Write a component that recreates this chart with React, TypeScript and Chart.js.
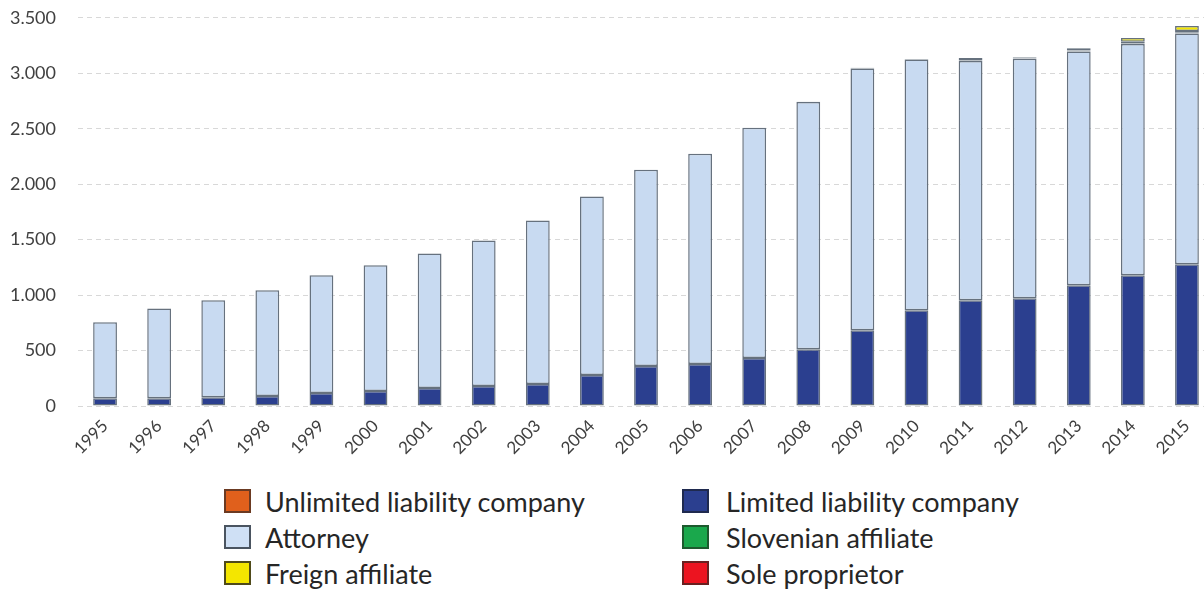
import React, { useEffect, useRef } from "react";
import { Chart, registerables } from "chart.js";

Chart.register(...registerables);

const years = ["1995","1996","1997","1998","1999","2000","2001","2002","2003","2004","2005","2006","2007","2008","2009","2010","2011","2012","2013","2014","2015"];
const limitedLiability = [70, 70, 80, 90, 117, 135, 162, 180, 198, 279, 360, 378, 432, 512, 683, 863, 953, 971, 1088, 1178, 1277];
const attorney = [685, 810, 873, 953, 1061, 1133, 1214, 1313, 1475, 1609, 1771, 1897, 2077, 2228, 2361, 2261, 2158, 2159, 2108, 2085, 2082];
const unlimitedLiability = [0, 0, 0, 0, 0, 0, 0, 0, 0, 0, 0, 0, 0, 3, 5, 5, 5, 5, 5, 5, 5];
const soleProprietor = [0, 0, 0, 0, 0, 0, 0, 0, 0, 0, 0, 0, 0, 0, 0, 0, 12, 6, 4, 5, 5];
const slovenianAffiliate = [0, 0, 0, 0, 0, 0, 0, 0, 0, 0, 0, 0, 0, 0, 0, 0, 10, 6, 15, 10, 12];
const foreignAffiliate = [0, 0, 0, 0, 0, 0, 0, 0, 0, 0, 0, 0, 0, 0, 0, 0, 0, 0, 8, 35, 45];
const yTicks = [0, 500, 1000, 1500, 2000, 2500, 3000, 3500];

const legendItems = [
  { label: "Unlimited liability company", fill: "#e0601c", border: "#6b3a22", col: 0, row: 0 },
  { label: "Limited liability company", fill: "#2b3f8f", border: "#1f2a4f", col: 1, row: 0 },
  { label: "Attorney", fill: "#cfe0f5", border: "#4a5460", col: 0, row: 1 },
  { label: "Slovenian affiliate", fill: "#1aa84c", border: "#1d5a2e", col: 1, row: 1 },
  { label: "Freign affiliate", fill: "#f4e600", border: "#4f4a1a", col: 0, row: 2 },
  { label: "Sole proprietor", fill: "#ec1420", border: "#6a2020", col: 1, row: 2 },
];

const fmt = (v: number) => {
  const s = Math.round(v).toString();
  return s.replace(/\B(?=(\d{3})+(?!\d))/g, ".");
};

export default function App() {
  const ref = useRef<HTMLCanvasElement | null>(null);

  useEffect(() => {
    if (!ref.current) return;
    const border = "#66717e";
    const mk = (label: string, data: number[], color: string) => ({
      label,
      data,
      backgroundColor: color,
      borderColor: border,
      borderWidth: 1.5,
      borderSkipped: false as const,
      barPercentage: 0.44,
      categoryPercentage: 1,
    });
    const chart = new Chart(ref.current, {
      type: "bar",
      data: {
        labels: years,
        datasets: [
          mk("Limited liability company", limitedLiability, "#2b3f8f"),
          mk("Attorney", attorney, "#c8daf1"),
          mk("Unlimited liability company", unlimitedLiability, "#e0601c"),
          mk("Sole proprietor", soleProprietor, "#ec1420"),
          mk("Slovenian affiliate", slovenianAffiliate, "#1aa84c"),
          mk("Freign affiliate", foreignAffiliate, "#f4e600"),
        ],
      },
      options: {
        responsive: false,
        animation: false,
        layout: { padding: { top: 2, right: 2, left: 0, bottom: 0 } },
        plugins: { legend: { display: false }, tooltip: { enabled: false } },
        scales: {
          x: {
            stacked: true,
            grid: { display: false, drawTicks: false },
            border: { display: false },
            ticks: {
              minRotation: 45,
              maxRotation: 45,
              padding: 10,
              color: "#404040",
              font: { family: "Lato", size: 17 },
            },
            afterFit: (s: any) => { s.height = 64; },
          },
          y: {
            stacked: true,
            min: 0,
            max: 3500,
            afterBuildTicks: (s: any) => { s.ticks = yTicks.map((v) => ({ value: v })); },
            grid: { color: "#d8d8d8", lineWidth: 1, drawTicks: false },
            border: { display: false, dash: [5, 4] },
            ticks: {
              padding: 22,
              color: "#404040",
              font: { family: "Lato", size: 18 },
              callback: (v: any) => fmt(Number(v)),
            },
            afterFit: (s: any) => { s.width = 78; },
          },
        },
      },
    });
    return () => chart.destroy();
  }, []);

  return (
    <div style={{ position: "fixed", left: 0, top: 0, width: 1204, height: 591, overflow: "hidden", background: "#fff" }}>
      <canvas ref={ref} width={1216} height={485} style={{ position: "absolute", left: 0, top: -15, width: 1216, height: 485 }} />
      {legendItems.map((it) => (
        <div
          key={it.label}
          style={{
            position: "absolute",
            left: it.col === 0 ? 224 : 682,
            top: 489 + it.row * 36,
            height: 24,
            display: "flex",
            alignItems: "center",
            fontFamily: "Lato",
            fontSize: 27,
            color: "#262626",
            whiteSpace: "nowrap",
          }}
        >
          <span
            style={{
              display: "inline-block",
              width: 23,
              height: 20,
              background: it.fill,
              border: `2px solid ${it.border}`,
              marginRight: it.col === 0 ? 14 : 17,
            }}
          />
          <span>{it.label}</span>
        </div>
      ))}
    </div>
  );
}
